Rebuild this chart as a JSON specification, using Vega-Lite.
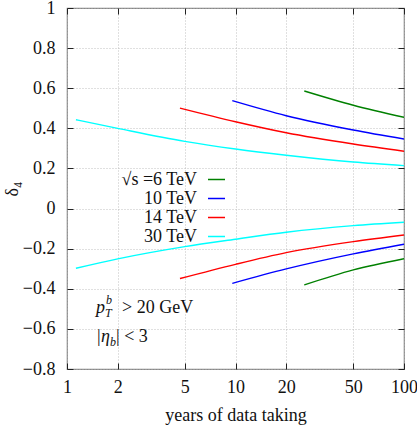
{
  "$schema": "https://vega.github.io/schema/vega-lite/v6.json",
  "width": 337,
  "height": 361,
  "autosize": {"type": "none"},
  "padding": {"left": 67, "top": 8, "right": 13, "bottom": 58},
  "config": {
    "font": "Liberation Serif",
    "view": {"stroke": "#888888", "strokeWidth": 1.2},
    "text": {"font": "Liberation Serif"},
    "axis": {
      "labelFont": "Liberation Serif",
      "titleFont": "Liberation Serif",
      "labelFontSize": 18,
      "titleFontSize": 18,
      "titleFontWeight": "normal",
      "labelColor": "#111111",
      "titleColor": "#111111",
      "domain": false,
      "tickColor": "#222222",
      "tickSize": -6,
      "tickWidth": 1,
      "gridColor": "#b0b0b0",
      "gridDash": [1, 2],
      "gridWidth": 0.8
    }
  },
  "data": {
    "values": [
      {"s": "√s =6 TeV", "c": "6u", "x": 25.6, "y": 0.586},
      {"s": "√s =6 TeV", "c": "6u", "x": 50, "y": 0.515},
      {"s": "√s =6 TeV", "c": "6u", "x": 100, "y": 0.455},
      {"s": "10 TeV", "c": "10u", "x": 9.57, "y": 0.538},
      {"s": "10 TeV", "c": "10u", "x": 20, "y": 0.463},
      {"s": "10 TeV", "c": "10u", "x": 50, "y": 0.392},
      {"s": "10 TeV", "c": "10u", "x": 100, "y": 0.347},
      {"s": "14 TeV", "c": "14u", "x": 4.68, "y": 0.501},
      {"s": "14 TeV", "c": "14u", "x": 10, "y": 0.433},
      {"s": "14 TeV", "c": "14u", "x": 20, "y": 0.378},
      {"s": "14 TeV", "c": "14u", "x": 50, "y": 0.322},
      {"s": "14 TeV", "c": "14u", "x": 100, "y": 0.286},
      {"s": "30 TeV", "c": "30u", "x": 1.13, "y": 0.443},
      {"s": "30 TeV", "c": "30u", "x": 2, "y": 0.4},
      {"s": "30 TeV", "c": "30u", "x": 5, "y": 0.335},
      {"s": "30 TeV", "c": "30u", "x": 10, "y": 0.297},
      {"s": "30 TeV", "c": "30u", "x": 20, "y": 0.266},
      {"s": "30 TeV", "c": "30u", "x": 50, "y": 0.232},
      {"s": "30 TeV", "c": "30u", "x": 100, "y": 0.214},
      {"s": "30 TeV", "c": "30l", "x": 1.13, "y": -0.298},
      {"s": "30 TeV", "c": "30l", "x": 2, "y": -0.251},
      {"s": "30 TeV", "c": "30l", "x": 5, "y": -0.19},
      {"s": "30 TeV", "c": "30l", "x": 10, "y": -0.153},
      {"s": "30 TeV", "c": "30l", "x": 20, "y": -0.118},
      {"s": "30 TeV", "c": "30l", "x": 50, "y": -0.085},
      {"s": "30 TeV", "c": "30l", "x": 100, "y": -0.068},
      {"s": "14 TeV", "c": "14l", "x": 4.68, "y": -0.349},
      {"s": "14 TeV", "c": "14l", "x": 10, "y": -0.278},
      {"s": "14 TeV", "c": "14l", "x": 20, "y": -0.22},
      {"s": "14 TeV", "c": "14l", "x": 50, "y": -0.165},
      {"s": "14 TeV", "c": "14l", "x": 100, "y": -0.132},
      {"s": "10 TeV", "c": "10l", "x": 9.57, "y": -0.373},
      {"s": "10 TeV", "c": "10l", "x": 20, "y": -0.301},
      {"s": "10 TeV", "c": "10l", "x": 50, "y": -0.226},
      {"s": "10 TeV", "c": "10l", "x": 100, "y": -0.178},
      {"s": "√s =6 TeV", "c": "6l", "x": 25.6, "y": -0.381},
      {"s": "√s =6 TeV", "c": "6l", "x": 50, "y": -0.306},
      {"s": "√s =6 TeV", "c": "6l", "x": 100, "y": -0.25}
    ]
  },
  "resolve": {"axis": {"x": "independent", "y": "independent"}},
  "layer": [
    {
      "mark": {"type": "line", "strokeWidth": 1.4, "interpolate": "monotone", "clip": true},
      "encoding": {
        "x": {
          "field": "x", "type": "quantitative",
          "scale": {"type": "log", "domain": [1, 100], "nice": false},
          "axis": {"orient": "bottom", "values": [1, 2, 5, 10, 20, 50, 100], "format": "d", "title": "years of data taking", "labelFont": "Liberation Serif", "titleFont": "Liberation Serif", "labelPadding": 15, "titlePadding": 10, "grid": true, "labelFlush": false}
        },
        "y": {
          "field": "y", "type": "quantitative",
          "scale": {"domain": [-0.8, 1], "nice": false, "zero": false},
          "axis": {"orient": "left", "values": [-0.8, -0.6, -0.4, -0.2, 0, 0.2, 0.4, 0.6, 0.8, 1], "format": ".1~f", "title": "δ₄", "labelFont": "Liberation Serif", "titleFont": "Liberation Serif", "labelPadding": 18, "titlePadding": 1, "grid": true, "labelFlush": false}
        },
        "detail": {"field": "c"},
        "color": {
          "field": "s", "type": "nominal",
          "scale": {"domain": ["√s =6 TeV", "10 TeV", "14 TeV", "30 TeV"], "range": ["#008000", "#0000ff", "#ff0000", "#00ffff"]},
          "legend": {
            "orient": "none", "legendX": 140, "legendY": 162, "title": null,
            "symbolType": "stroke", "symbolSize": 289, "symbolStrokeWidth": 1.5,
            "labelAlign": "right", "labelOffset": -29, "labelFontSize": 18,
            "labelFont": "Liberation Serif", "labelColor": "#111111",
            "rowPadding": 0, "padding": 0
          }
        }
      }
    },
    {
      "mark": {"type": "line", "opacity": 0},
      "encoding": {
        "x": {"field": "x", "type": "quantitative", "axis": {"orient": "top", "values": [1, 2, 5, 10, 20, 50, 100], "labels": false, "title": null, "grid": false}},
        "y": {"field": "y", "type": "quantitative", "axis": {"orient": "right", "values": [-0.8, -0.6, -0.4, -0.2, 0, 0.2, 0.4, 0.6, 0.8, 1], "labels": false, "title": null, "grid": false}},
        "detail": {"field": "c"}
      }
    },
    {
      "data": {"values": [{"t": "p"}]},
      "mark": {"type": "text", "align": "left", "baseline": "middle", "fontSize": 18, "fontStyle": "italic", "font": "Liberation Serif", "color": "#111111"},
      "encoding": {
        "x": {"datum": 1.487, "type": "quantitative", "axis": null},
        "y": {"datum": -0.4955, "type": "quantitative", "axis": null},
        "text": {"field": "t"}
      }
    },
    {
      "data": {"values": [{"t": "b"}]},
      "mark": {"type": "text", "align": "left", "baseline": "middle", "fontSize": 12, "fontStyle": "italic", "font": "Liberation Serif", "color": "#111111", "dx": 10, "dy": -8},
      "encoding": {
        "x": {"datum": 1.487, "type": "quantitative", "axis": null},
        "y": {"datum": -0.4955, "type": "quantitative", "axis": null},
        "text": {"field": "t"}
      }
    },
    {
      "data": {"values": [{"t": "T"}]},
      "mark": {"type": "text", "align": "left", "baseline": "middle", "fontSize": 12, "fontStyle": "italic", "font": "Liberation Serif", "color": "#111111", "dx": 9, "dy": 5},
      "encoding": {
        "x": {"datum": 1.487, "type": "quantitative", "axis": null},
        "y": {"datum": -0.4955, "type": "quantitative", "axis": null},
        "text": {"field": "t"}
      }
    },
    {
      "data": {"values": [{"t": "> 20 GeV"}]},
      "mark": {"type": "text", "align": "left", "baseline": "middle", "fontSize": 18, "font": "Liberation Serif", "color": "#111111", "dx": 26},
      "encoding": {
        "x": {"datum": 1.487, "type": "quantitative", "axis": null},
        "y": {"datum": -0.4955, "type": "quantitative", "axis": null},
        "text": {"field": "t"}
      }
    },
    {
      "data": {"values": [{"t": "|"}]},
      "mark": {"type": "text", "align": "left", "baseline": "middle", "fontSize": 18, "font": "Liberation Serif", "color": "#111111", "dx": 1},
      "encoding": {
        "x": {"datum": 1.487, "type": "quantitative", "axis": null},
        "y": {"datum": -0.64, "type": "quantitative", "axis": null},
        "text": {"field": "t"}
      }
    },
    {
      "data": {"values": [{"t": "η"}]},
      "mark": {"type": "text", "align": "left", "baseline": "middle", "fontSize": 18, "fontStyle": "italic", "font": "Liberation Serif", "color": "#111111", "dx": 5},
      "encoding": {
        "x": {"datum": 1.487, "type": "quantitative", "axis": null},
        "y": {"datum": -0.64, "type": "quantitative", "axis": null},
        "text": {"field": "t"}
      }
    },
    {
      "data": {"values": [{"t": "b"}]},
      "mark": {"type": "text", "align": "left", "baseline": "middle", "fontSize": 12, "fontStyle": "italic", "font": "Liberation Serif", "color": "#111111", "dx": 14, "dy": 5},
      "encoding": {
        "x": {"datum": 1.487, "type": "quantitative", "axis": null},
        "y": {"datum": -0.64, "type": "quantitative", "axis": null},
        "text": {"field": "t"}
      }
    },
    {
      "data": {"values": [{"t": "| < 3"}]},
      "mark": {"type": "text", "align": "left", "baseline": "middle", "fontSize": 18, "font": "Liberation Serif", "color": "#111111", "dx": 20},
      "encoding": {
        "x": {"datum": 1.487, "type": "quantitative", "axis": null},
        "y": {"datum": -0.64, "type": "quantitative", "axis": null},
        "text": {"field": "t"}
      }
    }
  ]
}
